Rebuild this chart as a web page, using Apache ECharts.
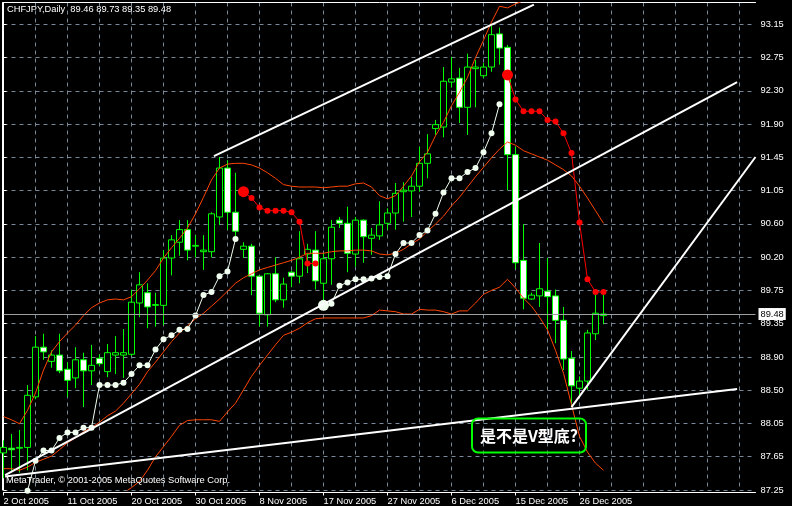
<!DOCTYPE html>
<html><head><meta charset="utf-8">
<script src="https://cdn.jsdelivr.net/npm/echarts@6/dist/echarts.min.js"></script>
<style>html,body{margin:0;padding:0;background:#000;}#c{width:792px;height:506px;}</style>
</head><body><div id="c"></div>
<script>
const symbolName = 'CHFJPY';
const periodName = 'Daily';
const dates = ['2 Oct 2005','3 Oct 2005','4 Oct 2005','5 Oct 2005','6 Oct 2005','7 Oct 2005','9 Oct 2005','10 Oct 2005','11 Oct 2005','12 Oct 2005','13 Oct 2005','14 Oct 2005','16 Oct 2005','17 Oct 2005','18 Oct 2005','19 Oct 2005','20 Oct 2005','21 Oct 2005','23 Oct 2005','24 Oct 2005','25 Oct 2005','26 Oct 2005','27 Oct 2005','28 Oct 2005','30 Oct 2005','31 Oct 2005',
'1 Nov 2005','2 Nov 2005','3 Nov 2005','4 Nov 2005','6 Nov 2005','7 Nov 2005','8 Nov 2005','9 Nov 2005','10 Nov 2005','11 Nov 2005','13 Nov 2005','14 Nov 2005','15 Nov 2005','16 Nov 2005','17 Nov 2005','18 Nov 2005','20 Nov 2005','21 Nov 2005','22 Nov 2005','23 Nov 2005','24 Nov 2005','25 Nov 2005','27 Nov 2005','28 Nov 2005','29 Nov 2005','30 Nov 2005',
'1 Dec 2005','2 Dec 2005','4 Dec 2005','5 Dec 2005','6 Dec 2005','7 Dec 2005','8 Dec 2005','9 Dec 2005','11 Dec 2005','12 Dec 2005','13 Dec 2005','14 Dec 2005','15 Dec 2005','16 Dec 2005','18 Dec 2005','19 Dec 2005','20 Dec 2005','21 Dec 2005','22 Dec 2005','23 Dec 2005','26 Dec 2005','27 Dec 2005','28 Dec 2005','29 Dec 2005'];

const open = [87.72,87.78,87.78,87.79,88.43,89.06,88.88,88.96,88.78,88.67, 88.90,88.76,88.92,88.75,88.96,88.96,88.97,89.62,89.75,89.59, 89.59,90.19,90.39,90.55,90.34,90.27,90.27,90.71,91.33,90.77, 90.30,90.34,89.96,89.47,89.99,89.66,90.01,89.96,90.24,90.29, 89.87,90.18,90.67,90.63,90.24,90.67,90.44,90.47,90.63,90.76, 91.03,91.04,91.10,91.39,91.83,91.85,92.42,92.47,92.10,92.59, 92.50,92.61,93.03,92.86,91.50,90.16,89.67,89.71,89.77,89.71, 89.40,88.92,88.54,88.63,89.23,89.46];
const high = [87.88,87.96,88.01,88.58,89.20,89.23,89.02,89.23,88.87,89.06, 88.99,89.09,88.97,89.10,89.20,89.29,89.79,90.01,89.87,89.75, 90.29,90.48,90.67,90.67,90.48,90.48,90.77,91.47,91.43,91.27, 90.39,90.37,89.97,90.00,90.20,89.94,90.03,90.53,90.37,90.53, 90.25,90.67,90.71,90.84,90.71,90.68,90.57,90.91,90.82,91.14, 91.15,91.22,91.60,91.76,91.94,92.61,92.74,92.60,92.78,92.70, 92.66,93.13,93.11,92.89,91.60,90.62,89.75,90.38,90.19,89.79, 89.57,89.01,88.69,89.28,89.76,89.73];
const low = [87.40,87.48,87.47,87.50,88.40,88.90,88.80,88.73,88.43,88.54, 88.30,88.58,88.82,88.68,88.72,88.67,88.95,89.44,89.30,89.32, 89.34,89.97,90.22,90.16,90.20,90.04,90.20,90.61,90.55,90.44, 90.19,89.72,89.32,89.32,89.63,89.56,89.82,89.87,90.00,89.79, 89.63,89.85,90.57,90.01,90.08,90.13,90.23,90.42,90.55,90.55, 90.65,90.71,91.03,91.20,91.75,91.72,92.35,91.90,91.75,92.10, 92.47,92.55,92.64,91.05,90.05,89.54,89.66,89.57,89.28,89.11, 88.77,88.30,88.42,88.52,89.15,89.35];
const close = [87.79,87.76,87.79,88.45,89.06,89.00,88.96,88.76,88.64,88.90, 88.76,88.83,88.85,88.99,88.99,88.99,89.63,89.85,89.57,89.60, 90.19,90.42,90.55,90.29,90.35,90.29,90.75,91.33,90.77,90.53, 90.34,89.96,89.49,89.99,89.66,89.86,89.96,90.18,90.30,89.90, 90.18,90.58,90.63,90.25,90.67,90.46,90.48,90.61,90.76,91.01, 91.05,91.10,91.39,91.51,91.88,92.43,92.46,92.10,92.61,92.61, 92.61,93.02,92.85,91.50,90.13,89.68,89.72,89.80,89.70,89.40, 88.91,88.57,88.63,89.24,89.49,89.48];

const bbUpper = [88.18,88.14,88.09,88.26,88.48,88.77,89.00,89.13,89.24,89.34, 89.46,89.56,89.62,89.66,89.67,89.66,89.70,89.80,89.91,90.03, 90.19,90.32,90.44,90.57,90.75,90.96,91.18,91.33,91.38,91.39, 91.39,91.37,91.33,91.27,91.20,91.12,91.10,91.09,91.09,91.09, 91.08,91.09,91.10,91.10,91.13,91.14,91.09,90.98,90.94,90.98, 91.10,91.23,91.41,91.53,91.74,91.91,92.12,92.29,92.48,92.73, 92.95,93.18,93.38,93.36,93.41,93.45,93.50,93.55,93.65,93.80, 93.95,94.15,94.35,94.50,94.60,94.65];
const bbMiddle = [87.52,87.52,87.50,87.54,87.60,87.64,87.68,87.76,87.85,87.91, 87.99,88.04,88.11,88.19,88.25,88.35,88.47,88.59,88.75,88.87, 89.00,89.13,89.24,89.33,89.42,89.49,89.58,89.67,89.77,89.87, 89.94,89.99,90.04,90.07,90.10,90.13,90.16,90.20,90.25,90.25, 90.25,90.27,90.28,90.28,90.29,90.29,90.28,90.24,90.23,90.25, 90.30,90.37,90.43,90.53,90.62,90.72,90.85,90.96,91.09,91.22, 91.34,91.46,91.57,91.66,91.62,91.55,91.51,91.47,91.43,91.37, 91.31,91.23,91.10,90.95,90.79,90.63];
const bbLower = [86.85,86.90,86.92,86.82,86.72,86.55,86.40,86.40,86.45,86.50, 86.55,86.55,86.62,86.72,86.85,87.21,87.28,87.36,87.50,87.67, 87.80,87.93,88.07,88.13,88.14,88.14,88.14,88.12,88.24,88.35, 88.52,88.69,88.83,88.96,89.09,89.21,89.25,89.30,89.37,89.42, 89.43,89.43,89.43,89.43,89.43,89.43,89.46,89.53,89.52,89.51, 89.48,89.48,89.54,89.53,89.53,89.51,89.48,89.52,89.52,89.62, 89.73,89.78,89.82,89.92,89.81,89.68,89.58,89.44,89.28,89.02, 88.73,88.33,87.93,87.73,87.59,87.50];

const sarUp = [null,null,null,87.24,87.62,87.75,87.75,87.91,87.98,87.98, 88.04,88.04,88.58,88.58,88.58,88.61,88.72,88.83,88.83,89.03, 89.16,89.21,89.28,89.29,89.46,89.72,89.76,89.96,90.02,90.43, null,null,null,null,null,null,null,null,null,null, 89.59,89.61,89.84,89.88,89.92,89.92,89.93,89.95,89.96,90.24, 90.38,90.38,90.48,90.54,90.75,91.02,91.20,91.20,91.28,91.33, 91.53,91.77,92.14,null,null,null,null,null,null,null, null,null,null,null,null,null];
const sarDown = [null,null,null,null,null,null,null,null,null,null, null,null,null,null,null,null,null,null,null,null, null,null,null,null,null,null,null,null,null,null, 91.03,90.95,90.83,90.79,90.79,90.79,90.77,90.65,90.12,90.12, null,null,null,null,null,null,null,null,null,null, null,null,null,null,null,null,null,null,null,null, null,null,null,92.51,92.20,92.05,92.05,92.05,91.94,91.92, 91.77,91.52,90.64,89.92,89.76,89.76];

const yTickLabels = ['87.25','87.65','88.05','88.50','88.90','89.35','89.75','90.20','90.60','91.05','91.45','91.90','92.30','92.75','93.15'];

// trend lines: [barIndex, price] endpoints
const trendLines = [
  [[26.3, 91.48], [66.3, 93.40]],
  [[0.2, 87.44], [91.7, 92.42]],
  [[0.2, 87.42], [91.7, 88.53]],
  [[71, 88.30], [94, 91.47]]
];
const noteText = '是不是V型底?';
const copyright = 'MetaTrader, \u00a9 2001-2005 MetaQuotes Software Corp.';

// ---------- chart ----------
const nCats = 95;
const cats = dates.concat(new Array(nCats - dates.length).fill(''));
const yMin = 87.25, yStep = 87.25 / 207, yMax = 93.428;
const last = dates.length - 1;
const font = '"Liberation Sans", Arial, sans-serif';
const fs = 9.3;
const gridLine = { color: '#778899', width: 1, type: [4, 4] };

const candleData = dates.map((d, i) => [open[i], close[i], low[i], high[i]]);
const header = symbolName + ',' + periodName + '  ' + [open[last], high[last], low[last], close[last]].map(v => v.toFixed(2)).join(' ');

function sarSeries(vals, other, color) {
  return {
    type: 'line', data: vals, xAxisIndex: 0, yAxisIndex: 0,
    symbol: 'circle', showSymbol: true, showAllSymbol: true,
    symbolSize: (v, p) => (p.dataIndex > 0 && vals[p.dataIndex - 1] == null && other[p.dataIndex - 1] != null) ? 11 : 6,
    itemStyle: { color: color }, lineStyle: { color: color, width: 1 },
    connectNulls: false, clip: false, z: 4, silent: true, animation: false
  };
}
function bandSeries(vals) {
  return { type: 'line', data: vals, xAxisIndex: 0, yAxisIndex: 0, symbol: 'none',
    lineStyle: { color: '#ff4500', width: 1 }, z: 3, silent: true, animation: false };
}

const labelEvery = (i, v) => v !== '' && i % 8 === 0;

const option = {
  backgroundColor: '#000',
  animation: false,
  title: [
    { text: header, left: 7, top: 5, padding: 0, textStyle: { color: '#fff', fontSize: fs, fontWeight: 'normal', fontFamily: font } },
    { text: copyright, left: 6, top: 476, padding: 0, z: 20, textStyle: { color: '#fff', fontSize: fs, fontWeight: 'normal', fontFamily: font } }
  ],
  grid: { left: 3.5, top: 2.5, width: 752, height: 487.5, containLabel: false },
  xAxis: [
    {
      type: 'category', data: cats, boundaryGap: false, position: 'bottom', offset: 2.5,
      axisLine: { show: true, lineStyle: { color: '#fff', width: 1 } },
      axisTick: { show: true, length: 3, interval: labelEvery, lineStyle: { color: '#fff' } },
      axisLabel: { show: true, interval: labelEvery, color: '#fff', fontSize: fs, fontFamily: font, align: 'left', margin: 4 },
      splitLine: { show: true, interval: 3, showMinLine: false, lineStyle: gridLine }
    },
    {
      type: 'value', position: 'top', min: 0, max: nCats - 1,
      axisLine: { show: true, onZero: false, lineStyle: { color: '#fff', width: 1 } },
      axisTick: { show: false }, axisLabel: { show: false }, splitLine: { show: false }
    }
  ],
  yAxis: [
    {
      type: 'value', position: 'right', min: yMin, max: yMax, interval: yStep, scale: true,
      axisLine: { show: true, lineStyle: { color: '#fff', width: 1 } },
      axisTick: { show: true, length: 3, lineStyle: { color: '#fff' } },
      axisLabel: {
        color: '#fff', fontSize: fs, fontFamily: font, margin: 5, showMaxLabel: false,
        formatter: (v) => {
          const k = Math.round((v - yMin) / yStep);
          return (k >= 0 && k < yTickLabels.length && Math.abs(v - (yMin + k * yStep)) < 1e-6) ? yTickLabels[k] : '';
        }
      },
      splitLine: { show: true, showMaxLine: false, lineStyle: gridLine }
    },
    {
      type: 'value', position: 'left', min: yMin, max: yMax, offset: 1.5, scale: true,
      axisLine: { show: true, onZero: false, lineStyle: { color: '#fff', width: 1 } },
      axisTick: { show: false }, axisLabel: { show: false }, splitLine: { show: false }
    }
  ],
  series: [
    {
      type: 'candlestick', data: candleData, xAxisIndex: 0, yAxisIndex: 0, barWidth: 6, z: 2,
      itemStyle: { color: '#000', color0: '#fff', borderColor: '#00ff00', borderColor0: '#00ff00', borderWidth: 1 },
      markLine: {
        silent: true, symbol: ['none', 'none'], animation: false,
        data: [{ yAxis: close[last] }],
        lineStyle: { color: '#a0a0a0', type: 'solid', width: 1 },
        label: { show: true, position: 'end', distance: 3, formatter: close[last].toFixed(2), color: '#000',
          backgroundColor: '#fff', padding: [2, 2, 1, 2], fontSize: fs, fontFamily: font }
      }
    },
    bandSeries(bbUpper), bandSeries(bbMiddle), bandSeries(bbLower),
    sarSeries(sarUp, sarDown, '#f0fff0'),
    sarSeries(sarDown, sarUp, '#ff0000')
  ].concat(trendLines.map(seg => ({
    type: 'line', data: seg, xAxisIndex: 1, yAxisIndex: 0, symbol: 'none', clip: false,
    lineStyle: { color: '#fff', width: 2 }, z: 6, silent: true, animation: false
  }))),
  graphic: [
    { type: 'rect', z: 100, shape: { x: 472, y: 418.5, width: 114, height: 34, r: 6 },
      style: { fill: 'none', stroke: '#00ff00', lineWidth: 2 } },
    { type: 'text', z: 101, x: 529, y: 435.5,
      style: { text: noteText, fill: '#fff', font: 'bold 16px "Noto Sans CJK SC"', align: 'center', verticalAlign: 'middle' } }
  ]
};

const chart = echarts.init(document.getElementById('c'));
chart.setOption(option);
</script>
</body></html>
